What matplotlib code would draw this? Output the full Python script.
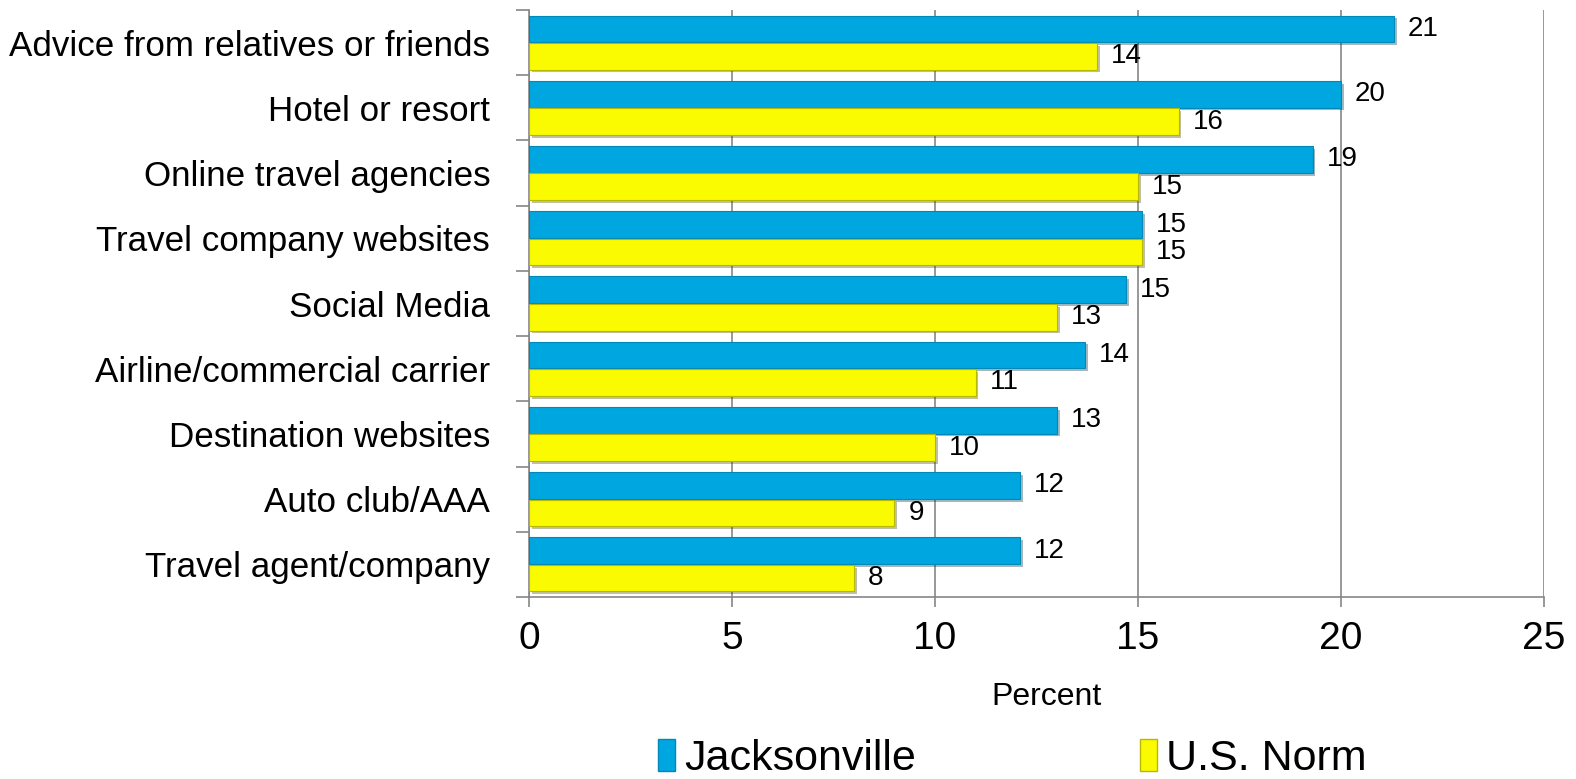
import matplotlib
matplotlib.use('Agg')
import matplotlib.pyplot as plt
import matplotlib.patheffects as pe
from matplotlib import font_manager
from matplotlib.patches import Patch

# Data
categories = ['Advice from relatives or friends', 'Hotel or resort', 'Online travel agencies',
              'Travel company websites', 'Social Media', 'Airline/commercial carrier',
              'Destination websites', 'Auto club/AAA', 'Travel agent/company']
jacksonville = [21.3, 20.0, 19.3, 15.1, 14.7, 13.7, 13.0, 12.1, 12.1]
us_norm = [14.0, 16.0, 15.0, 15.1, 13.0, 11.0, 10.0, 9.0, 8.0]
series_names = ['Jacksonville', 'U.S. Norm']
xticks = [0, 5, 10, 15, 20, 25]

BLUE = '#00A6E0'
YELLOW = '#FAFA00'
GREY = '#868686'

# Pick a condensed font if one is around, else shrink the regular one
names = {f.name for f in font_manager.fontManager.ttflist}
narrow = 'Liberation Sans Narrow' in names
family = ['Liberation Sans Narrow'] if narrow else ['Liberation Sans']
plt.rcParams['font.family'] = family + ['DejaVu Sans']
label_size = 28 if narrow else 25.2

fig = plt.figure(figsize=(15.76, 7.79), dpi=100)
ax = fig.add_axes([0.3357, 0.2336, 0.9797 - 0.3357, 0.98716 - 0.2336])

y = list(range(len(categories)))
h = 0.41
shadow = [pe.SimplePatchShadow(offset=(2, -2), alpha=0.35), pe.Normal()]

b1 = ax.barh([i - h / 2 - 0.005 for i in y], jacksonville, height=h, color=BLUE,
             edgecolor='#0088B8', linewidth=0.8, zorder=3)
b2 = ax.barh([i + h / 2 + 0.005 for i in y], us_norm, height=h, color=YELLOW,
             edgecolor='#B8B800', linewidth=0.8, zorder=3)
for bars in (b1, b2):
    for p in bars:
        p.set_path_effects(shadow)

for bars, vals in ((b1, jacksonville), (b2, us_norm)):
    for p, v in zip(bars, vals):
        ax.annotate(f'{round(v)}', xy=(v, p.get_y() + p.get_height() / 2),
                    xytext=(10, 0), textcoords='offset points', va='center', ha='left',
                    fontsize=20, family=['Liberation Sans', 'DejaVu Sans'], zorder=4)

ax.set_xlim(0, 25)
ax.set_ylim(len(categories) - 0.5, -0.5)
ax.set_xticks(xticks)
ax.set_xticklabels([str(t) for t in xticks], fontsize=28,
                   family=['Liberation Sans', 'DejaVu Sans'])
ax.tick_params(axis='x', length=7, width=1.2, color=GREY, pad=10)

ax.set_yticks(y)
ax.set_yticklabels(categories, fontsize=label_size)
ax.tick_params(axis='y', which='major', length=0, pad=28)
ax.set_yticks([i - 0.5 for i in range(len(categories) + 1)], minor=True)
ax.tick_params(axis='y', which='minor', length=9.5, width=1.2, color=GREY)

ax.grid(axis='x', color=GREY, linewidth=1.2, zorder=0)
ax.set_axisbelow(True)
for s in ('top', 'right'):
    ax.spines[s].set_visible(False)
for s in ('left', 'bottom'):
    ax.spines[s].set_color(GREY)
    ax.spines[s].set_linewidth(1.2)

ax.set_xlabel('Percent', fontsize=23)
ax.xaxis.set_label_coords(0.51, -0.145)

handles = [Patch(facecolor=BLUE, edgecolor='#0088B8'),
           Patch(facecolor=YELLOW, edgecolor='#B8B800')]
fig.legend(handles, series_names, loc='lower left', bbox_to_anchor=(0.393, -0.05),
           ncol=2, frameon=False, fontsize=31, handlelength=0.4, handleheight=0.75,
           handletextpad=0.2, columnspacing=5.2)

fig.savefig('out.png', dpi=100)
